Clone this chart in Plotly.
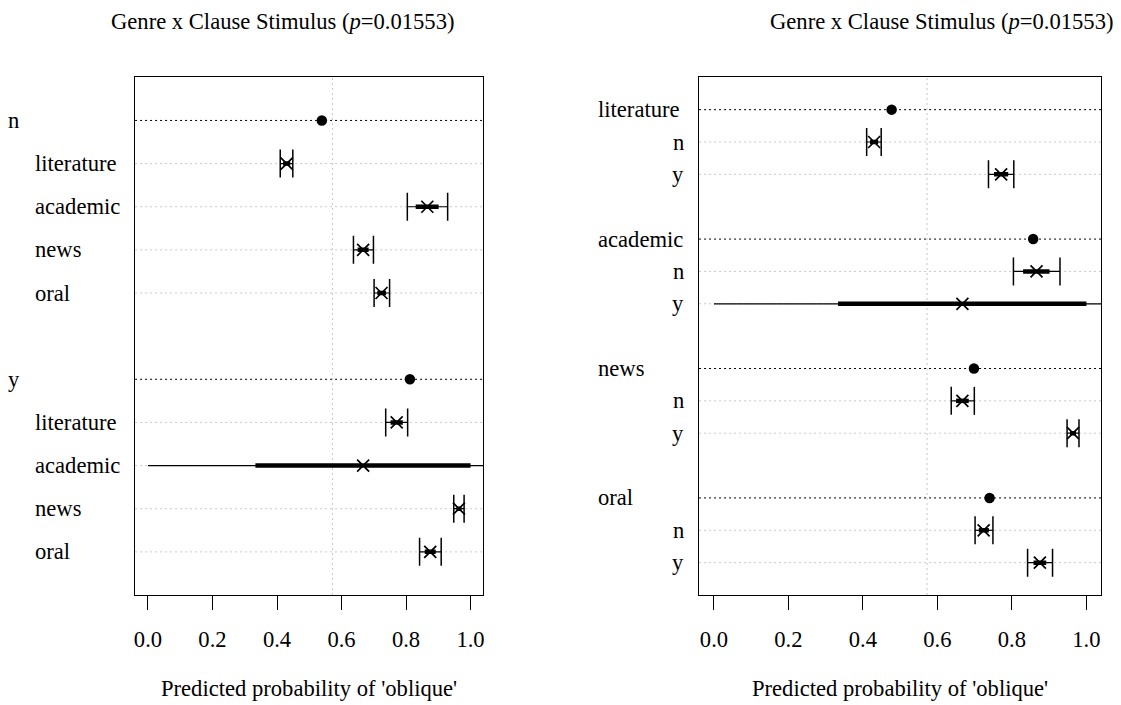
import plotly.graph_objects as go

# ---------------- data ----------------
genres = ["literature", "academic", "news", "oral"]
clauses = ["n", "y"]

clause_overall = [0.539, 0.812]                 # header dots, left panel
genre_overall = [0.477, 0.857, 0.698, 0.740]    # header dots, right panel

# estimates per genre for clause stimulus n / y
est_n = [0.430, 0.866, 0.667, 0.724]
lo_outer_n = [0.410, 0.804, 0.637, 0.701]
hi_outer_n = [0.449, 0.929, 0.699, 0.749]
lo_inner_n = [0.419, 0.830, 0.650, 0.711]
hi_inner_n = [0.441, 0.901, 0.684, 0.738]

est_y = [0.771, 0.667, 0.964, 0.875]
lo_outer_y = [0.737, 0.000, 0.948, 0.842]
hi_outer_y = [0.805, 1.333, 0.980, 0.909]
lo_inner_y = [0.752, 0.333, 0.956, 0.858]
hi_inner_y = [0.790, 1.000, 0.972, 0.892]

reference_prob = 0.572
x_ticks = [0.0, 0.2, 0.4, 0.6, 0.8, 1.0]
title_text = "Genre x Clause Stimulus (<i>p</i>=0.01553)"
x_title = "Predicted probability of 'oblique'"

# ---------------- layout geometry ----------------
OFF = 8                      # page body margin
W, H = 1121 - OFF, 705 - OFF
FONT = "Liberation Serif"
FS = 22.6
top_px, bot_px = 77.3, 595.0
panels = {
    "L": dict(x0=134.3, x1=483.3, n_rows=11, xa="x", ya="y"),
    "R": dict(x0=699.3, x1=1102.3, n_rows=15, xa="x2", ya="y2"),
}
CAP_HALF_PX = 14

def px_x(p):
    return (p - OFF) / W

def px_y(p):
    return 1 - (p - OFF) / H

est = {"n": est_n, "y": est_y}
lo_o = {"n": lo_outer_n, "y": lo_outer_y}
hi_o = {"n": hi_outer_n, "y": hi_outer_y}
lo_i = {"n": lo_inner_n, "y": lo_inner_y}
hi_i = {"n": hi_inner_n, "y": hi_inner_y}

fig = go.Figure()
shapes = []
annotations = []

def add_panel(key, headers, header_vals, items_for_header):
    P = panels[key]
    xa, ya = P["xa"], P["ya"]
    unit_px = (bot_px - top_px) / (P["n_rows"] + 1)
    cap_h = CAP_HALF_PX / unit_px

    thin_x, thin_y, thick_x, thick_y, cap_x, cap_y = [], [], [], [], [], []
    mk_x, mk_y, dot_x, dot_y = [], [], [], []
    pos = 0
    for hi_idx, hname in enumerate(headers):
        shapes.append(dict(type="line", xref=xa + " domain", yref=ya, x0=0, x1=1, layer="below",
                           y0=pos, y1=pos, line=dict(color="black", width=1, dash="2px,3px")))
        dot_x.append(header_vals[hi_idx]); dot_y.append(pos)
        if key == "L":
            annotations.append(dict(text=hname, xref="paper", yref=ya, x=px_x(5), y=pos,
                                    xanchor="left", yanchor="middle", showarrow=False))
        else:
            annotations.append(dict(text=hname, xref="paper", yref=ya, x=px_x(596), y=pos,
                                    xanchor="left", yanchor="middle", showarrow=False))
        pos += 1
        for (label, cl, gi) in items_for_header(hi_idx):
            shapes.append(dict(type="line", xref=xa + " domain", yref=ya, x0=0, x1=1, layer="below",
                               y0=pos, y1=pos, line=dict(color="#c8c8c8", width=1, dash="2px,3px")))
            if key == "L":
                annotations.append(dict(text=label, xref="paper", yref=ya, x=px_x(32), y=pos,
                                        xanchor="left", yanchor="middle", showarrow=False))
            else:
                annotations.append(dict(text=label, xref="paper", yref=ya, x=px_x(686), y=pos,
                                        xanchor="right", yanchor="middle", showarrow=False))
            lo, hi = lo_o[cl][gi], hi_o[cl][gi]
            thin_x += [lo, hi, None]; thin_y += [pos, pos, None]
            thick_x += [lo_i[cl][gi], hi_i[cl][gi], None]; thick_y += [pos, pos, None]
            if 0 < lo and hi < 1:
                for v in (lo, hi):
                    cap_x += [v, v, None]; cap_y += [pos - cap_h, pos + cap_h, None]
            mk_x.append(est[cl][gi]); mk_y.append(pos)
            pos += 1
        pos += 1  # blank row between groups

    shapes.append(dict(type="line", xref=xa, yref=ya + " domain", x0=reference_prob, x1=reference_prob,
                       y0=0, y1=1, layer="below", line=dict(color="#c8c8c8", width=1, dash="2px,3px")))

    common = dict(xaxis=xa, yaxis=ya, showlegend=False, hoverinfo="skip")
    fig.add_trace(go.Scatter(x=thin_x, y=thin_y, mode="lines", line=dict(color="black", width=1.2), **common))
    fig.add_trace(go.Scatter(x=thick_x, y=thick_y, mode="lines", line=dict(color="black", width=4.5), **common))
    fig.add_trace(go.Scatter(x=cap_x, y=cap_y, mode="lines", line=dict(color="black", width=1.5), **common))
    fig.add_trace(go.Scatter(x=mk_x, y=mk_y, mode="markers",
                             marker=dict(symbol="x-thin", size=12, line=dict(color="black", width=1.7)), **common))
    fig.add_trace(go.Scatter(x=dot_x, y=dot_y, mode="markers",
                             marker=dict(symbol="circle", size=10.5, color="black"), **common))

add_panel("L", clauses, clause_overall,
          lambda h: [(g, clauses[h], gi) for gi, g in enumerate(genres)])
add_panel("R", genres, genre_overall,
          lambda h: [(c, c, h) for c in clauses])

for cx in (282, 942):
    annotations.append(dict(text=title_text, xref="paper", yref="paper", x=px_x(cx), y=px_y(21),
                            xanchor="center", yanchor="middle", showarrow=False))
for key in ("L", "R"):
    P = panels[key]
    annotations.append(dict(text=x_title, xref="paper", yref="paper",
                            x=px_x((P["x0"] + P["x1"]) / 2), y=px_y(688),
                            xanchor="center", yanchor="middle", showarrow=False))

axis_common = dict(range=[-0.04, 1.04], showgrid=False, zeroline=False, showline=True, mirror=True,
                   linecolor="black", linewidth=1, ticks="outside", ticklen=14, tickwidth=1,
                   tickcolor="black", tickvals=x_ticks, tickformat=".1f", fixedrange=True,
                   ticklabelstandoff=10,
                   tickfont=dict(family=FONT, size=FS, color="black"))
yd = [px_y(bot_px), px_y(top_px)]
y_common = dict(showgrid=False, zeroline=False, showline=True, mirror=True, linecolor="black",
                linewidth=1, showticklabels=False, ticks="", fixedrange=True)

fig.update_layout(
    width=W, height=H, autosize=False,
    margin=dict(l=0, r=0, t=0, b=0),
    paper_bgcolor="white", plot_bgcolor="white",
    font=dict(family=FONT, size=FS, color="black"),
    xaxis=dict(domain=[px_x(panels["L"]["x0"]), px_x(panels["L"]["x1"])], anchor="y", **axis_common),
    yaxis=dict(domain=yd, anchor="x", range=[panels["L"]["n_rows"], -1], **y_common),
    xaxis2=dict(domain=[px_x(panels["R"]["x0"]), px_x(panels["R"]["x1"])], anchor="y2", **axis_common),
    yaxis2=dict(domain=yd, anchor="x2", range=[panels["R"]["n_rows"], -1], **y_common),
    shapes=shapes,
    annotations=annotations,
)

fig.write_html("out.html")
